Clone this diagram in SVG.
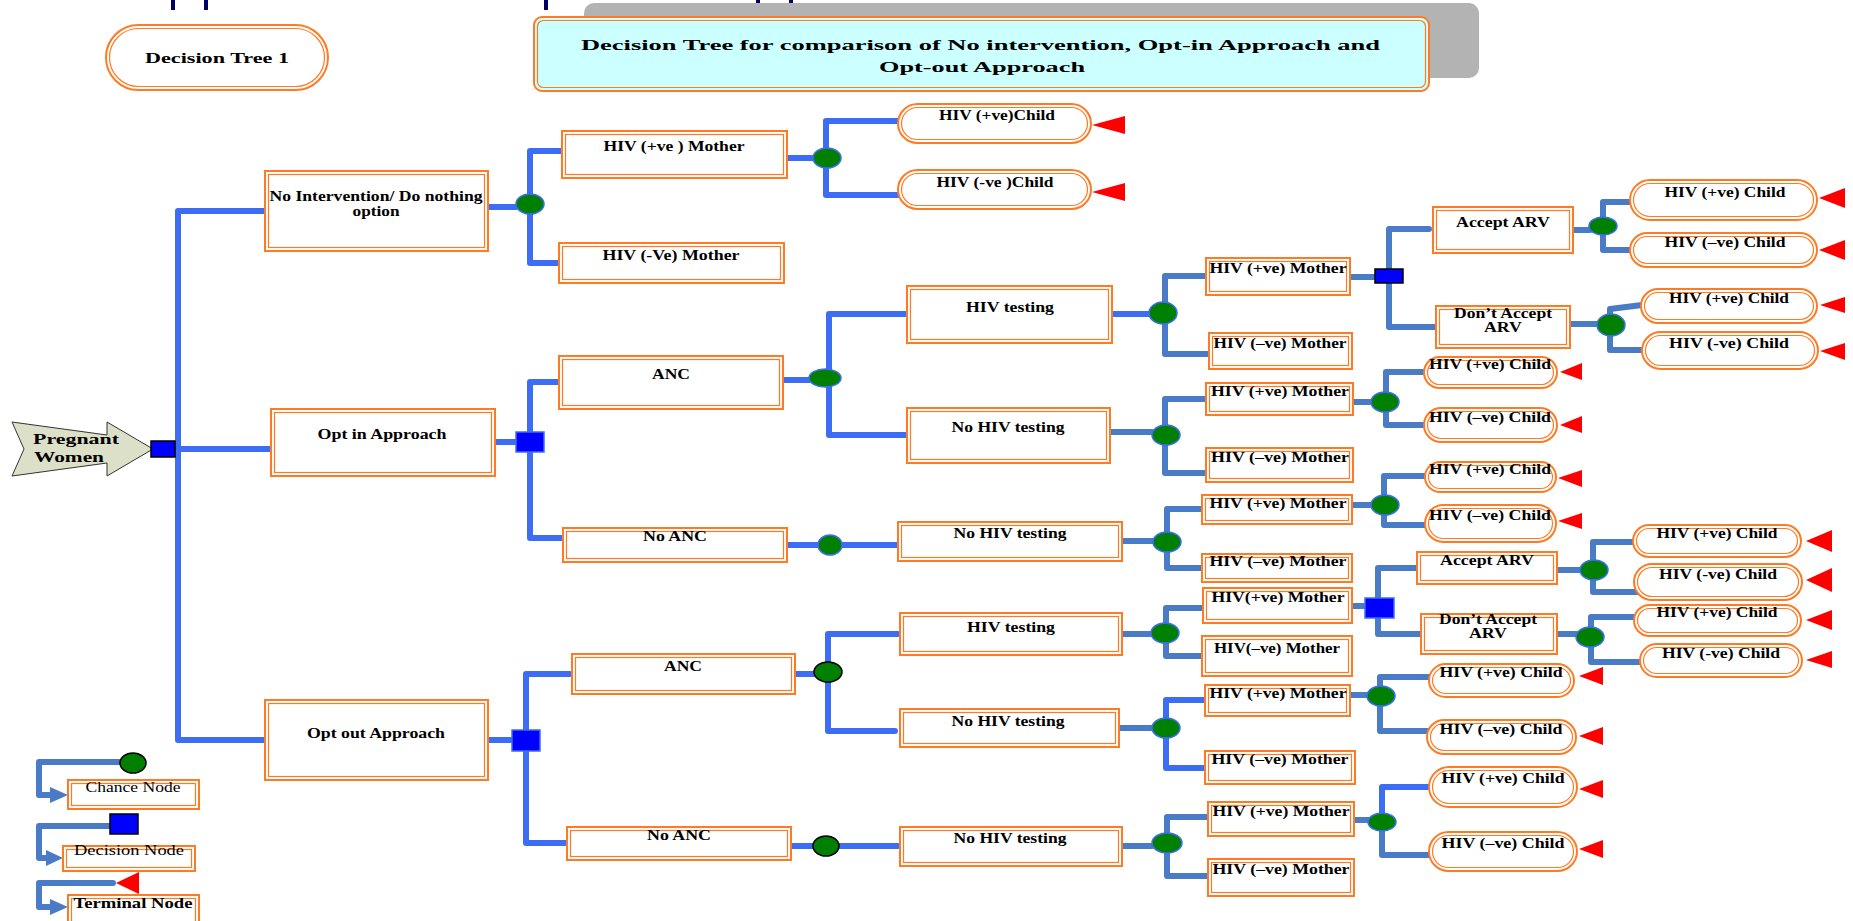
<svg xmlns="http://www.w3.org/2000/svg" width="1853" height="921" viewBox="0 0 1853 921">
<style>
.o{fill:#fff;stroke:#FF7A22;stroke-width:2}
.i{fill:none;stroke:#FF7A22;stroke-width:1.2}
.bb{fill:none;stroke:#3D6CF5;stroke-width:6;stroke-linecap:round;stroke-linejoin:round}
.sb{fill:none;stroke:#4A7BC6;stroke-width:6;stroke-linecap:round;stroke-linejoin:round}
.ch{fill:#008000;stroke:#3D6CF5;stroke-width:1.5}
.chk{fill:#008000;stroke:#000;stroke-width:1.5}
.dc{fill:#0000FF;stroke:#000;stroke-width:1.5}
.dcb{fill:#0000FF;stroke:#3D6CF5;stroke-width:1.5}
.tm{fill:#FF0000}
.t{font-family:"Liberation Serif","Times New Roman",serif;font-weight:bold;font-size:14px;fill:#000;text-anchor:middle}
.r{font-weight:normal}
.tk{fill:#000066}
</style>

<g id="ticks">
<rect class="tk" x="171" y="0" width="4" height="10"/>
<rect class="tk" x="204" y="0" width="4" height="10"/>
<rect class="tk" x="544" y="0" width="4" height="10"/>
<rect class="tk" x="756" y="0" width="4" height="10"/>
<rect class="tk" x="789" y="0" width="4" height="10"/>
</g>

<g id="title">
<rect x="584" y="3" width="895" height="75" rx="10" fill="#B3B3B3"/>
<rect x="534" y="17" width="895" height="74" rx="8" fill="#CCFFFF" stroke="#FF7A22" stroke-width="2"/>
<rect x="537.5" y="20.5" width="888" height="67" rx="6" class="i"/>
<text class="t" x="980.5" y="50" font-size="20" textLength="799" lengthAdjust="spacingAndGlyphs">Decision Tree for comparison of No intervention, Opt-in Approach and</text>
<text class="t" x="982" y="72" font-size="20" textLength="206" lengthAdjust="spacingAndGlyphs">Opt-out Approach</text>
</g>

<g id="dt1">
<rect class="o" x="106" y="25" width="222" height="65" rx="32.5"/>
<rect class="i" x="109.5" y="28.5" width="215" height="58" rx="29"/>
<text class="t" x="217" y="63" font-size="16" textLength="144" lengthAdjust="spacingAndGlyphs">Decision Tree 1</text>
</g>

<g id="connectors">
<!-- root -->
<path class="bb" d="M178,211 V740 M178,211 H265 M178,740 H265 M175,449 H271"/>
<!-- no intervention -->
<path class="bb" d="M488,207 H516 M562,151 H530 V263 H561 M787,158 H813 M898,121 H826 V195 H898"/>
<!-- opt in -->
<path class="bb" d="M495,442 H516 M560,382 H530 V538 H566 M783,380 H809 M907,314 H829 V435 H907 M787,545 H898 M1112,314 H1150"/>
<path class="sb" d="M1207,276 H1165 V354 H1209 M1350,277 H1375 M1429,229 H1389 V327 H1436 M1573,230 H1590 M1632,202 H1603 V250 H1632 M1570,324 H1597 M1642,305 L1610,309 V350 H1642"/>
<path class="sb" d="M1110,432 H1152 M1206,399 H1165 V473 H1206 M1353,402 H1371 M1424,372 H1386 V425 H1424"/>
<path class="sb" d="M1122,541 H1153 M1205,509 H1167 V568 H1202 M1352,505 H1370 M1426,476 H1384 V525 H1426"/>
<!-- opt out -->
<path class="bb" d="M488,740 H512 M570,674 H526 V843 H567 M795,674 H814 M898,634 H828 V731 H895 M791,846 H898"/>
<path class="sb" d="M1122,634 H1151 M1204,608 H1166 V656 H1204 M1352,606 H1365 M1417,568 H1378 V634 H1421 M1557,570 H1580 M1634,542 H1593 V592 H1640 M1557,634 H1577 M1637,617 H1591 V662 H1642"/>
<path class="sb" d="M1119,728 H1152 M1350,695 H1367 M1430,677 H1380 V731 H1430"/>
<path class="bb" d="M1204,700 H1166 V768 H1205"/>
<path class="sb" d="M1122,846 H1152 M1207,817 H1167 V876 H1215 M1354,820 H1368 M1382,822 V855 H1440"/>
<path class="bb" d="M1432,787 H1382 V815"/>
<!-- legend -->
<path class="sb" d="M120,762 H39 V795 H52 M110,826 H39 V858 H46 M113,883 H39 V907 H52"/>
<polygon points="50,787 68,795 50,803" fill="#4A7BC6"/>
<polygon points="46,850 63,858 46,866" fill="#4A7BC6"/>
<polygon points="50,899 68,907 50,915" fill="#4A7BC6"/>
</g>

<g id="pregnant">
<polygon points="12,422 107,435 107,422 153,449 107,476 107,463 12,476 24,449" fill="#DDE0C8" stroke="#333" stroke-width="1"/>
<text class="t" x="33" y="444" font-size="16" text-anchor="start" style="text-anchor:start" textLength="86" lengthAdjust="spacingAndGlyphs" fill="#222">Pregnant</text>
<text class="t" x="34" y="462" font-size="16" style="text-anchor:start" textLength="70" lengthAdjust="spacingAndGlyphs" fill="#222">Women</text>
<rect class="dc" x="151" y="441" width="24" height="16"/>
</g>

<g id="noint">
<rect class="o" x="265" y="171" width="223" height="80"/><rect class="i" x="268.5" y="174.5" width="216" height="73"/>
<text class="t" x="376" y="201" textLength="213" lengthAdjust="spacingAndGlyphs">No Intervention/ Do nothing</text>
<text class="t" x="376" y="216" textLength="47" lengthAdjust="spacingAndGlyphs">option</text>
</g>
<g id="optin">
<rect class="o" x="271" y="409" width="224" height="67"/><rect class="i" x="274.5" y="412.5" width="217" height="60"/>
<text class="t" x="382" y="439" textLength="129" lengthAdjust="spacingAndGlyphs">Opt in Approach</text>
</g>
<g id="optout">
<rect class="o" x="265" y="700" width="223" height="80"/><rect class="i" x="268.5" y="703.5" width="216" height="73"/>
<text class="t" x="376" y="738" textLength="138" lengthAdjust="spacingAndGlyphs">Opt out Approach</text>
</g>

<!-- No intervention subtree -->
<g id="ni-chance"><ellipse class="ch" cx="530" cy="204" rx="14" ry="10"/></g>
<g id="ni-mpos">
<rect class="o" x="562" y="131" width="225" height="47"/><rect class="i" x="565.5" y="134.5" width="218" height="40"/>
<text class="t" x="674" y="151" textLength="141" lengthAdjust="spacingAndGlyphs">HIV (+ve ) Mother</text>
</g>
<g id="ni-mneg">
<rect class="o" x="559" y="243" width="225" height="40"/><rect class="i" x="562.5" y="246.5" width="218" height="33"/>
<text class="t" x="671" y="260" textLength="137" lengthAdjust="spacingAndGlyphs">HIV (-Ve) Mother</text>
</g>
<g id="ni-chance2"><ellipse class="ch" cx="827" cy="158" rx="14" ry="10"/></g>
<g id="ni-cpos">
<rect class="o" x="898" y="104" width="193" height="39" rx="19.5"/><rect class="i" x="901.5" y="107.5" width="186" height="32" rx="16"/>
<text class="t" x="997" y="120" textLength="116" lengthAdjust="spacingAndGlyphs">HIV (+ve)Child</text>
<polygon class="tm" points="1092,125 1125,116 1125,134"/>
</g>
<g id="ni-cneg">
<rect class="o" x="898" y="170" width="193" height="39" rx="19.5"/><rect class="i" x="901.5" y="173.5" width="186" height="32" rx="16"/>
<text class="t" x="995" y="187" textLength="117" lengthAdjust="spacingAndGlyphs">HIV (-ve )Child</text>
<polygon class="tm" points="1092,192 1125,183 1125,201"/>
</g>

<!-- Opt in subtree -->
<g id="in-dec"><rect class="dcb" x="516" y="432" width="28" height="20"/></g>
<g id="in-anc">
<rect class="o" x="559" y="356" width="224" height="53"/><rect class="i" x="562.5" y="359.5" width="217" height="46"/>
<text class="t" x="671" y="379" textLength="38" lengthAdjust="spacingAndGlyphs">ANC</text>
</g>
<g id="in-noanc">
<rect class="o" x="563" y="528" width="224" height="34"/><rect class="i" x="566.5" y="531.5" width="217" height="27"/>
<text class="t" x="675" y="541" textLength="64" lengthAdjust="spacingAndGlyphs">No ANC</text>
</g>
<g id="in-anc-ch"><ellipse class="ch" cx="825" cy="378" rx="16" ry="9"/></g>
<g id="in-noanc-ch"><ellipse class="ch" cx="830" cy="545" rx="12" ry="10"/></g>
<g id="in-test">
<rect class="o" x="907" y="286" width="205" height="57"/><rect class="i" x="910.5" y="289.5" width="198" height="50"/>
<text class="t" x="1010" y="312" textLength="88" lengthAdjust="spacingAndGlyphs">HIV testing</text>
</g>
<g id="in-notest">
<rect class="o" x="907" y="408" width="203" height="55"/><rect class="i" x="910.5" y="411.5" width="196" height="48"/>
<text class="t" x="1008" y="432" textLength="113" lengthAdjust="spacingAndGlyphs">No HIV testing</text>
</g>
<g id="in-noanc-notest">
<rect class="o" x="898" y="522" width="224" height="39"/><rect class="i" x="901.5" y="525.5" width="217" height="32"/>
<text class="t" x="1010" y="538" textLength="113" lengthAdjust="spacingAndGlyphs">No HIV testing</text>
</g>

<!-- opt in, HIV testing -->
<g id="it-ch"><ellipse class="ch" cx="1163" cy="313" rx="14" ry="11"/></g>
<g id="it-mpos">
<rect class="o" x="1206" y="258" width="144" height="37"/><rect class="i" x="1209.5" y="261.5" width="137" height="30"/>
<text class="t" x="1278" y="273" textLength="137" lengthAdjust="spacingAndGlyphs">HIV (+ve) Mother</text>
</g>
<g id="it-mneg">
<rect class="o" x="1209" y="333" width="143" height="36"/><rect class="i" x="1212.5" y="336.5" width="136" height="29"/>
<text class="t" x="1280" y="348" textLength="133" lengthAdjust="spacingAndGlyphs">HIV (–ve) Mother</text>
</g>
<g id="it-dec"><rect class="dc" x="1375" y="269" width="28" height="14"/></g>
<g id="it-acc">
<rect class="o" x="1433" y="207" width="140" height="46"/><rect class="i" x="1436.5" y="210.5" width="133" height="39"/>
<text class="t" x="1503" y="227" textLength="94" lengthAdjust="spacingAndGlyphs">Accept ARV</text>
</g>
<g id="it-dacc">
<rect class="o" x="1436" y="306" width="134" height="42"/><rect class="i" x="1439.5" y="309.5" width="127" height="35"/>
<text class="t" x="1503" y="318" textLength="98" lengthAdjust="spacingAndGlyphs">Don’t Accept</text>
<text class="t" x="1503" y="332" textLength="38" lengthAdjust="spacingAndGlyphs">ARV</text>
</g>
<g id="it-acc-ch"><ellipse class="ch" cx="1603" cy="226" rx="14" ry="9"/></g>
<g id="it-acc-cpos">
<rect class="o" x="1630" y="180" width="187" height="40" rx="20"/><rect class="i" x="1633.5" y="183.5" width="180" height="33" rx="16.5"/>
<text class="t" x="1725" y="197" textLength="121" lengthAdjust="spacingAndGlyphs">HIV (+ve) Child</text>
<polygon class="tm" points="1819,198 1845,188 1845,208"/>
</g>
<g id="it-acc-cneg">
<rect class="o" x="1630" y="233" width="187" height="34" rx="17"/><rect class="i" x="1633.5" y="236.5" width="180" height="27" rx="13.5"/>
<text class="t" x="1725" y="247" textLength="121" lengthAdjust="spacingAndGlyphs">HIV (–ve) Child</text>
<polygon class="tm" points="1819,250 1845,240 1845,260"/>
</g>
<g id="it-dacc-ch"><ellipse class="ch" cx="1611" cy="325" rx="14" ry="11"/></g>
<g id="it-dacc-cpos">
<rect class="o" x="1641" y="289" width="176" height="34" rx="17"/><rect class="i" x="1644.5" y="292.5" width="169" height="27" rx="13.5"/>
<text class="t" x="1729" y="303" textLength="120" lengthAdjust="spacingAndGlyphs">HIV (+ve) Child</text>
<polygon class="tm" points="1820,305 1845,297 1845,313"/>
</g>
<g id="it-dacc-cneg">
<rect class="o" x="1642" y="332" width="176" height="37" rx="18.5"/><rect class="i" x="1645.5" y="335.5" width="169" height="30" rx="15"/>
<text class="t" x="1729" y="348" textLength="120" lengthAdjust="spacingAndGlyphs">HIV (-ve) Child</text>
<polygon class="tm" points="1820,351 1845,343 1845,360"/>
</g>

<!-- opt in, no HIV testing -->
<g id="in-ch"><ellipse class="ch" cx="1166" cy="435" rx="14" ry="10"/></g>
<g id="in-mpos">
<rect class="o" x="1206" y="383" width="147" height="32"/><rect class="i" x="1209.5" y="386.5" width="140" height="25"/>
<text class="t" x="1280" y="396" textLength="138" lengthAdjust="spacingAndGlyphs">HIV (+ve) Mother</text>
</g>
<g id="in-mneg">
<rect class="o" x="1206" y="448" width="147" height="34"/><rect class="i" x="1209.5" y="451.5" width="140" height="27"/>
<text class="t" x="1280" y="462" textLength="138" lengthAdjust="spacingAndGlyphs">HIV (–ve) Mother</text>
</g>
<g id="in-mch"><ellipse class="ch" cx="1385" cy="402" rx="14" ry="10"/></g>
<g id="in-cpos">
<rect class="o" x="1424" y="357" width="133" height="31" rx="15.5"/><rect class="i" x="1427.5" y="360.5" width="126" height="24" rx="12"/>
<text class="t" x="1490" y="369" textLength="122" lengthAdjust="spacingAndGlyphs">HIV (+ve) Child</text>
<polygon class="tm" points="1560,372 1582,363 1582,380"/>
</g>
<g id="in-cneg">
<rect class="o" x="1424" y="408" width="133" height="34" rx="17"/><rect class="i" x="1427.5" y="411.5" width="126" height="27" rx="13.5"/>
<text class="t" x="1490" y="422" textLength="122" lengthAdjust="spacingAndGlyphs">HIV (–ve) Child</text>
<polygon class="tm" points="1560,425 1582,416 1582,433"/>
</g>

<!-- opt in, no ANC -->
<g id="na-ch"><ellipse class="ch" cx="1167" cy="542" rx="14" ry="10"/></g>
<g id="na-mpos">
<rect class="o" x="1202" y="495" width="150" height="29"/><rect class="i" x="1205.5" y="498.5" width="143" height="22"/>
<text class="t" x="1278" y="508" textLength="137" lengthAdjust="spacingAndGlyphs">HIV (+ve) Mother</text>
</g>
<g id="na-mneg">
<rect class="o" x="1202" y="554" width="150" height="28"/><rect class="i" x="1205.5" y="557.5" width="143" height="21"/>
<text class="t" x="1278" y="566" textLength="137" lengthAdjust="spacingAndGlyphs">HIV (–ve) Mother</text>
</g>
<g id="na-mch"><ellipse class="ch" cx="1385" cy="505" rx="14" ry="10"/></g>
<g id="na-cpos">
<rect class="o" x="1425" y="462" width="131" height="30" rx="15"/><rect class="i" x="1428.5" y="465.5" width="124" height="23" rx="11.5"/>
<text class="t" x="1490" y="474" textLength="122" lengthAdjust="spacingAndGlyphs">HIV (+ve) Child</text>
<polygon class="tm" points="1558,478 1582,470 1582,487"/>
</g>
<g id="na-cneg">
<rect class="o" x="1425" y="505" width="131" height="37" rx="18.5"/><rect class="i" x="1428.5" y="508.5" width="124" height="30" rx="15"/>
<text class="t" x="1490" y="520" textLength="122" lengthAdjust="spacingAndGlyphs">HIV (–ve) Child</text>
<polygon class="tm" points="1558,521 1582,513 1582,529"/>
</g>

<!-- Opt out subtree -->
<g id="out-dec"><rect class="dcb" x="512" y="730" width="28" height="21"/></g>
<g id="out-anc">
<rect class="o" x="572" y="654" width="223" height="40"/><rect class="i" x="575.5" y="657.5" width="216" height="33"/>
<text class="t" x="683" y="671" textLength="38" lengthAdjust="spacingAndGlyphs">ANC</text>
</g>
<g id="out-noanc">
<rect class="o" x="567" y="827" width="224" height="33"/><rect class="i" x="570.5" y="830.5" width="217" height="26"/>
<text class="t" x="679" y="840" textLength="64" lengthAdjust="spacingAndGlyphs">No ANC</text>
</g>
<g id="out-anc-ch"><ellipse class="chk" cx="828" cy="672" rx="14" ry="10"/></g>
<g id="out-noanc-ch"><ellipse class="chk" cx="826" cy="846" rx="13" ry="10"/></g>
<g id="out-test">
<rect class="o" x="900" y="613" width="222" height="42"/><rect class="i" x="903.5" y="616.5" width="215" height="35"/>
<text class="t" x="1011" y="632" textLength="88" lengthAdjust="spacingAndGlyphs">HIV testing</text>
</g>
<g id="out-notest">
<rect class="o" x="900" y="709" width="219" height="38"/><rect class="i" x="903.5" y="712.5" width="212" height="31"/>
<text class="t" x="1008" y="726" textLength="113" lengthAdjust="spacingAndGlyphs">No HIV testing</text>
</g>
<g id="out-noanc-notest">
<rect class="o" x="900" y="827" width="222" height="39"/><rect class="i" x="903.5" y="830.5" width="215" height="32"/>
<text class="t" x="1010" y="843" textLength="113" lengthAdjust="spacingAndGlyphs">No HIV testing</text>
</g>

<!-- opt out, HIV testing -->
<g id="ot-ch"><ellipse class="ch" cx="1165" cy="633" rx="14" ry="10"/></g>
<g id="ot-mpos">
<rect class="o" x="1203" y="588" width="149" height="35"/><rect class="i" x="1206.5" y="591.5" width="142" height="28"/>
<text class="t" x="1278" y="602" textLength="133" lengthAdjust="spacingAndGlyphs">HIV(+ve) Mother</text>
</g>
<g id="ot-mneg">
<rect class="o" x="1202" y="636" width="150" height="40"/><rect class="i" x="1205.5" y="639.5" width="143" height="33"/>
<text class="t" x="1277" y="653" textLength="126" lengthAdjust="spacingAndGlyphs">HIV(–ve) Mother</text>
</g>
<g id="ot-dec"><rect class="dcb" x="1365" y="598" width="29" height="20"/></g>
<g id="ot-acc">
<rect class="o" x="1417" y="552" width="140" height="32"/><rect class="i" x="1420.5" y="555.5" width="133" height="25"/>
<text class="t" x="1487" y="565" textLength="94" lengthAdjust="spacingAndGlyphs">Accept ARV</text>
</g>
<g id="ot-dacc">
<rect class="o" x="1421" y="614" width="136" height="40"/><rect class="i" x="1424.5" y="617.5" width="129" height="33"/>
<text class="t" x="1488" y="624" textLength="98" lengthAdjust="spacingAndGlyphs">Don’t Accept</text>
<text class="t" x="1488" y="638" textLength="38" lengthAdjust="spacingAndGlyphs">ARV</text>
</g>
<g id="ot-acc-ch"><ellipse class="ch" cx="1594" cy="570" rx="14" ry="10"/></g>
<g id="ot-acc-cpos">
<rect class="o" x="1633" y="525" width="168" height="32" rx="16"/><rect class="i" x="1636.5" y="528.5" width="161" height="25" rx="12.5"/>
<text class="t" x="1717" y="538" textLength="121" lengthAdjust="spacingAndGlyphs">HIV (+ve) Child</text>
<polygon class="tm" points="1806,541 1832,530 1832,552"/>
</g>
<g id="ot-acc-cneg">
<rect class="o" x="1634" y="564" width="168" height="36" rx="18"/><rect class="i" x="1637.5" y="567.5" width="161" height="29" rx="14.5"/>
<text class="t" x="1718" y="579" textLength="118" lengthAdjust="spacingAndGlyphs">HIV (-ve) Child</text>
<polygon class="tm" points="1806,580 1832,568 1832,592"/>
</g>
<g id="ot-dacc-ch"><ellipse class="ch" cx="1590" cy="637" rx="14" ry="10"/></g>
<g id="ot-dacc-cpos">
<rect class="o" x="1634" y="605" width="167" height="31" rx="15.5"/><rect class="i" x="1637.5" y="608.5" width="160" height="24" rx="12"/>
<text class="t" x="1717" y="617" textLength="121" lengthAdjust="spacingAndGlyphs">HIV (+ve) Child</text>
<polygon class="tm" points="1806,620 1832,610 1832,630"/>
</g>
<g id="ot-dacc-cneg">
<rect class="o" x="1640" y="644" width="162" height="33" rx="16.5"/><rect class="i" x="1643.5" y="647.5" width="155" height="26" rx="13"/>
<text class="t" x="1721" y="658" textLength="118" lengthAdjust="spacingAndGlyphs">HIV (-ve) Child</text>
<polygon class="tm" points="1806,660 1832,651 1832,668"/>
</g>

<!-- opt out, no HIV testing -->
<g id="on-ch"><ellipse class="ch" cx="1166" cy="728" rx="14" ry="10"/></g>
<g id="on-mpos">
<rect class="o" x="1205" y="685" width="145" height="31"/><rect class="i" x="1208.5" y="688.5" width="138" height="24"/>
<text class="t" x="1278" y="698" textLength="137" lengthAdjust="spacingAndGlyphs">HIV (+ve) Mother</text>
</g>
<g id="on-mneg">
<rect class="o" x="1205" y="751" width="150" height="33"/><rect class="i" x="1208.5" y="754.5" width="143" height="26"/>
<text class="t" x="1280" y="764" textLength="137" lengthAdjust="spacingAndGlyphs">HIV (–ve) Mother</text>
</g>
<g id="on-mch"><ellipse class="ch" cx="1381" cy="696" rx="14" ry="10"/></g>
<g id="on-cpos">
<rect class="o" x="1429" y="664" width="145" height="33" rx="16.5"/><rect class="i" x="1432.5" y="667.5" width="138" height="26" rx="13"/>
<text class="t" x="1501" y="677" textLength="123" lengthAdjust="spacingAndGlyphs">HIV (+ve) Child</text>
<polygon class="tm" points="1579,676 1603,667 1603,685"/>
</g>
<g id="on-cneg">
<rect class="o" x="1427" y="720" width="149" height="34" rx="17"/><rect class="i" x="1430.5" y="723.5" width="142" height="27" rx="13.5"/>
<text class="t" x="1501" y="734" textLength="123" lengthAdjust="spacingAndGlyphs">HIV (–ve) Child</text>
<polygon class="tm" points="1579,736 1603,727 1603,745"/>
</g>

<!-- opt out, no ANC -->
<g id="oa-ch"><ellipse class="ch" cx="1167" cy="843" rx="15" ry="10"/></g>
<g id="oa-mpos">
<rect class="o" x="1208" y="802" width="146" height="34"/><rect class="i" x="1211.5" y="805.5" width="139" height="27"/>
<text class="t" x="1281" y="816" textLength="137" lengthAdjust="spacingAndGlyphs">HIV (+ve) Mother</text>
</g>
<g id="oa-mneg">
<rect class="o" x="1208" y="859" width="146" height="37"/><rect class="i" x="1211.5" y="862.5" width="139" height="30"/>
<text class="t" x="1281" y="874" textLength="137" lengthAdjust="spacingAndGlyphs">HIV (–ve) Mother</text>
</g>
<g id="oa-mch"><ellipse class="ch" cx="1382" cy="822" rx="14" ry="9"/></g>
<g id="oa-cpos">
<rect class="o" x="1429" y="767" width="148" height="40" rx="20"/><rect class="i" x="1432.5" y="770.5" width="141" height="33" rx="16.5"/>
<text class="t" x="1503" y="783" textLength="123" lengthAdjust="spacingAndGlyphs">HIV (+ve) Child</text>
<polygon class="tm" points="1579,789 1603,780 1603,798"/>
</g>
<g id="oa-cneg">
<rect class="o" x="1429" y="832" width="148" height="39" rx="19.5"/><rect class="i" x="1432.5" y="835.5" width="141" height="32" rx="16"/>
<text class="t" x="1503" y="848" textLength="123" lengthAdjust="spacingAndGlyphs">HIV (–ve) Child</text>
<polygon class="tm" points="1579,849 1603,840 1603,858"/>
</g>

<!-- legend -->
<g id="legend-chance">
<ellipse class="chk" cx="133" cy="763" rx="13" ry="10"/>
<rect class="o" x="68" y="780" width="131" height="29"/><rect class="i" x="71.5" y="783.5" width="124" height="22"/>
<text class="t r" x="133" y="792" textLength="95" lengthAdjust="spacingAndGlyphs">Chance Node</text>
</g>
<g id="legend-decision">
<rect class="dc" x="110" y="814" width="28" height="20"/>
<rect class="o" x="63" y="846" width="132" height="25"/><rect class="i" x="66.5" y="849.5" width="125" height="18"/>
<text class="t r" x="129" y="855" textLength="110" lengthAdjust="spacingAndGlyphs">Decision  Node</text>
</g>
<g id="legend-terminal">
<polygon class="tm" points="116,883 139,872 139,894"/>
<rect class="o" x="68" y="895" width="131" height="35"/><rect class="i" x="71.5" y="898.5" width="124" height="28"/>
<text class="t" x="133" y="908" textLength="119" lengthAdjust="spacingAndGlyphs">Terminal  Node</text>
</g>
</svg>
